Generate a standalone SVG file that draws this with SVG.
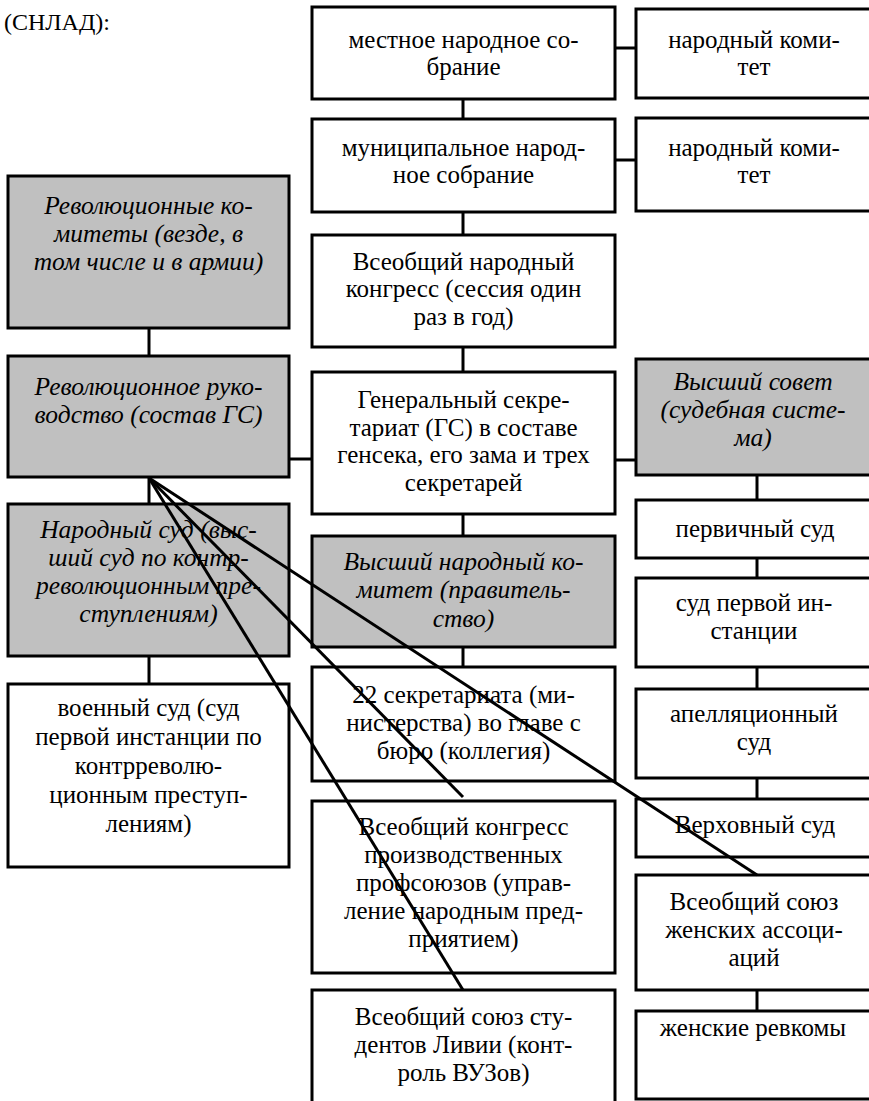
<svg xmlns="http://www.w3.org/2000/svg" width="869" height="1101" viewBox="0 0 869 1101">
<style>
text{font-family:"Liberation Serif","Times New Roman",serif;font-size:25px;fill:#000}
.n text{text-anchor:middle}
.i text{font-style:italic;font-size:25.5px}
.box{fill:#fff;stroke:#000;stroke-width:3}
.g .box{fill:#c0c0c0}
.c line{stroke:#000;stroke-width:3}
</style>
<rect width="869" height="1101" fill="#fff"/>
<text x="4" y="30" style="font-size:24px">(СНЛАД):</text>
<g class="c" id="connectors">
<line x1="463" y1="99" x2="463" y2="119"/>
<line x1="463" y1="212" x2="463" y2="235"/>
<line x1="463" y1="347" x2="463" y2="372"/>
<line x1="463" y1="514" x2="463" y2="536"/>
<line x1="463" y1="647" x2="463" y2="667"/>
<line x1="615" y1="48" x2="636" y2="48"/>
<line x1="615" y1="160" x2="636" y2="160"/>
<line x1="615" y1="460" x2="636" y2="460"/>
<line x1="289" y1="459" x2="312" y2="459"/>
<line x1="149" y1="328" x2="149" y2="356"/>
<line x1="149" y1="477" x2="149" y2="504"/>
<line x1="149" y1="656" x2="149" y2="684"/>
<line x1="757" y1="475" x2="757" y2="500"/>
<line x1="757" y1="558" x2="757" y2="578"/>
<line x1="757" y1="667" x2="757" y2="689"/>
<line x1="757" y1="778" x2="757" y2="799"/>
<line x1="757" y1="990" x2="757" y2="1011"/>
</g>
<g class="n g i" id="rev-committees"><rect class="box" x="8" y="176" width="281" height="152"/><text x="148.5" y="214">Революционные ко-</text><text x="148.5" y="242">митеты (везде, в</text><text x="148.5" y="270">том числе и в армии)</text></g>
<g class="n g i" id="rev-leadership"><rect class="box" x="8" y="356" width="281" height="121"/><text x="148.5" y="395">Революционное руко-</text><text x="148.5" y="423">водство (состав ГС)</text></g>
<g class="n g i" id="people-court"><rect class="box" x="8" y="504" width="281" height="152"/><text x="148.5" y="538">Народный суд (выс-</text><text x="148.5" y="566">ший суд по контр-</text><text x="148.5" y="594">революционным пре-</text><text x="148.5" y="622">ступлениям)</text></g>
<g class="n" id="military-court"><rect class="box" x="8" y="684" width="281" height="183"/><text x="148.5" y="716">военный суд (суд</text><text x="148.5" y="745">первой инстанции по</text><text x="148.5" y="774">контрреволю-</text><text x="148.5" y="803">ционным преступ-</text><text x="148.5" y="832">лениям)</text></g>
<g class="n" id="local-assembly"><rect class="box" x="312" y="7" width="303" height="92"/><text x="463.5" y="48">местное народное со-</text><text x="463.5" y="75">брание</text></g>
<g class="n" id="municipal-assembly"><rect class="box" x="312" y="119" width="303" height="93"/><text x="463.5" y="156">муниципальное народ-</text><text x="463.5" y="183">ное собрание</text></g>
<g class="n" id="general-congress"><rect class="box" x="312" y="235" width="303" height="112"/><text x="463.5" y="270">Всеобщий народный</text><text x="463.5" y="297">конгресс (сессия один</text><text x="463.5" y="325">раз в год)</text></g>
<g class="n" id="general-secretariat"><rect class="box" x="312" y="372" width="303" height="142"/><text x="463.5" y="408">Генеральный секре-</text><text x="463.5" y="436">тариат (ГС) в составе</text><text x="463.5" y="463">генсека, его зама и трех</text><text x="463.5" y="491">секретарей</text></g>
<g class="n g i" id="supreme-committee"><rect class="box" x="312" y="536" width="303" height="111"/><text x="463.5" y="570">Высший народный ко-</text><text x="463.5" y="598">митет (правитель-</text><text x="463.5" y="627">ство)</text></g>
<g class="n" id="secretariats"><rect class="box" x="312" y="667" width="303" height="114"/><text x="463.5" y="703">22 секретариата (ми-</text><text x="463.5" y="731">нистерства) во главе с</text><text x="463.5" y="759">бюро (коллегия)</text></g>
<g class="n" id="trade-unions"><rect class="box" x="312" y="801" width="303" height="172"/><text x="463.5" y="835">Всеобщий конгресс</text><text x="463.5" y="863">производственных</text><text x="463.5" y="891">профсоюзов (управ-</text><text x="463.5" y="919">ление народным пред-</text><text x="463.5" y="947">приятием)</text></g>
<g class="n" id="students-union"><rect class="box" x="312" y="990" width="303" height="120"/><text x="463.5" y="1025">Всеобщий союз сту-</text><text x="463.5" y="1053">дентов Ливии (конт-</text><text x="463.5" y="1081">роль ВУЗов)</text></g>
<g class="n" id="people-committee-1"><rect class="box" x="636" y="9" width="262" height="89"/><text x="754" y="48">народный коми-</text><text x="754" y="75">тет</text></g>
<g class="n" id="people-committee-2"><rect class="box" x="636" y="118" width="262" height="93"/><text x="754" y="156">народный коми-</text><text x="754" y="183">тет</text></g>
<g class="n g i" id="supreme-council"><rect class="box" x="636" y="359" width="262" height="116"/><text x="753" y="390">Высший совет</text><text x="753" y="418">(судебная систе-</text><text x="753" y="446">ма)</text></g>
<g class="n" id="primary-court"><rect class="box" x="636" y="500" width="262" height="58"/><text x="755" y="537">первичный суд</text></g>
<g class="n" id="first-instance"><rect class="box" x="636" y="578" width="262" height="89"/><text x="754" y="611">суд первой ин-</text><text x="754" y="639">станции</text></g>
<g class="n" id="appeal-court"><rect class="box" x="636" y="689" width="262" height="89"/><text x="754" y="722">апелляционный</text><text x="754" y="750">суд</text></g>
<g class="n" id="supreme-court"><rect class="box" x="636" y="799" width="262" height="58"/><text x="755" y="833">Верховный суд</text></g>
<g class="n" id="women-union"><rect class="box" x="636" y="875" width="262" height="115"/><text x="754" y="910">Всеобщий союз</text><text x="754" y="938">женских ассоци-</text><text x="754" y="966">аций</text></g>
<g class="n" id="women-committees"><rect class="box" x="636" y="1011" width="262" height="88"/><text x="753" y="1036">женские ревкомы</text></g>
<g class="c" id="diagonals">
<line x1="149" y1="478" x2="463" y2="797"/>
<line x1="149" y1="478" x2="463" y2="990"/>
<line x1="149" y1="478" x2="757" y2="875"/>
</g>
</svg>
